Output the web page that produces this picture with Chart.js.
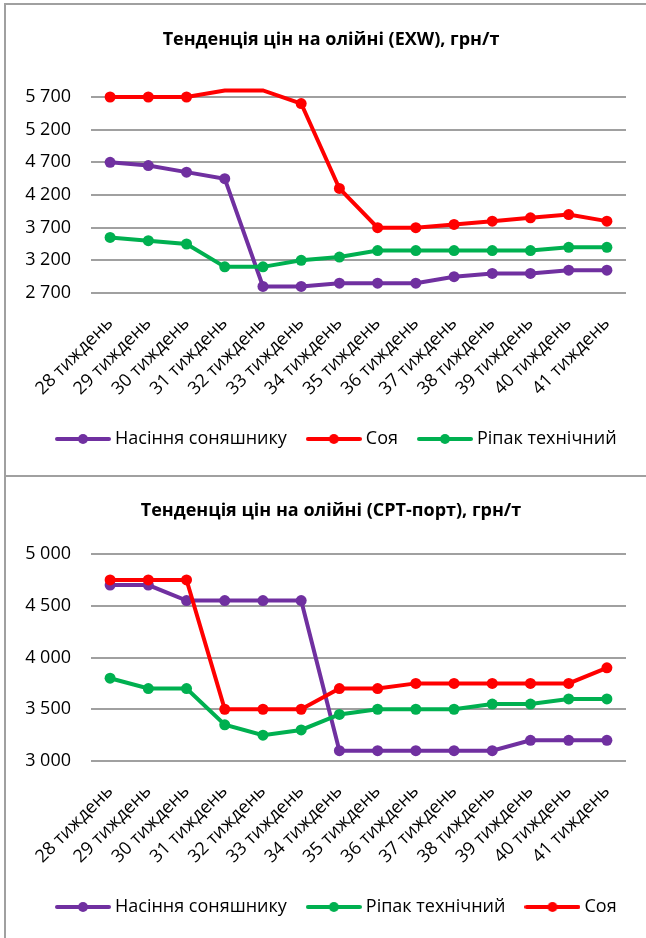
<!DOCTYPE html>
<html>

<head>
	<meta charset="UTF-8">
	<meta name="viewport" content="width=device-width, initial-scale=1.0">
	<script src="https://cdn.jsdelivr.net/npm/chart.js@4.4.1/dist/chart.umd.min.js"></script>
	<style>
		body {
			margin: 0;
			width: 646px;
			height: 938px;
			overflow: hidden;
			background: #fff;
			position: relative;
		}

		.frame {
			position: absolute;
			border: 2px solid #a0a0a0;
		}

		.plot {
			position: absolute;
			left: 6px;
			width: 640px;
		}
	</style>

	<script>
		// тижні
		var weeks = ['28 тиждень', '29 тиждень', '30 тиждень', '31 тиждень', '32 тиждень', '33 тиждень', '34 тиждень',
			'35 тиждень', '36 тиждень', '37 тиждень', '38 тиждень', '39 тиждень', '40 тиждень', '41 тиждень'];

		// EXW, грн/т
		var exwSunflower = [4700, 4650, 4550, 4450, 2800, 2800, 2850, 2850, 2850, 2950, 3000, 3000, 3050, 3050];
		var exwSoy = [5700, 5700, 5700, 5800, 5800, 5600, 4300, 3700, 3700, 3750, 3800, 3850, 3900, 3800];
		var exwRapeseed = [3550, 3500, 3450, 3100, 3100, 3200, 3250, 3350, 3350, 3350, 3350, 3350, 3400, 3400];
		var exwAxis = [2700, 5700, 500];

		// CPT-порт, грн/т
		var cptSunflower = [4700, 4700, 4550, 4550, 4550, 4550, 3100, 3100, 3100, 3100, 3100, 3200, 3200, 3200];
		var cptRapeseed = [3800, 3700, 3700, 3350, 3250, 3300, 3450, 3500, 3500, 3500, 3550, 3550, 3600, 3600];
		var cptSoy = [4750, 4750, 4750, 3500, 3500, 3500, 3700, 3700, 3750, 3750, 3750, 3750, 3750, 3900];
		var cptAxis = [3000, 5000, 500];

		var PURPLE = '#7030a0', RED = '#ff0000', GREEN = '#00b050';
		var FONT = '"Open Sans", sans-serif';
		var LEGEND_PAD = 24;

		// маркер легенди: лінія з точкою як в Excel
		function legendMarker(color) {
			var c = document.createElement('canvas');
			c.width = 56;
			c.height = 12;
			var g = c.getContext('2d');
			g.strokeStyle = color;
			g.lineWidth = 4;
			g.lineCap = 'round';
			g.beginPath();
			g.moveTo(2, 6);
			g.lineTo(54, 6);
			g.stroke();
			g.fillStyle = color;
			g.beginPath();
			g.arc(28, 6, 5, 0, Math.PI * 2);
			g.fill();
			return c;
		}

		function fmt(v) {
			return String(v).replace(/\B(?=(\d{3})+(?!\d))/g, ' ');
		}

		// зсув легенди та заголовка праворуч (мітки осі Y не можна обрізати паддінгом)
		var boxShift = {
			id: 'boxShift',
			afterLayout: function (chart) {
				var shift = 54 - LEGEND_PAD;
				chart.legend.left += shift;
				chart.legend.right += shift;
				chart.titleBlock.left += 15;
				chart.titleBlock.right += 15;
			}
		};

		function series(label, values, color, order) {
			return {
				label: label,
				data: values,
				borderColor: color,
				backgroundColor: color,
				borderWidth: 4,
				pointRadius: 5.5,
				pointHoverRadius: 5.5,
				pointBorderWidth: 0,
				pointBackgroundColor: color,
				tension: 0,
				clip: false,
				order: order
			};
		}

		function makeChart(id, title, sets, axis, pad) {
			var markers = sets.map(function (s) {return legendMarker(s.borderColor);});
			var ctx = document.getElementById(id).getContext('2d');
			return new Chart(ctx, {
				type: 'line',
				data: {
					labels: weeks,
					datasets: sets
				},
				plugins: [boxShift],
				options: {
					responsive: false,
					animation: false,
					layout: {
						padding: {left: 0, right: 20, top: 0, bottom: pad.bottom}
					},
					plugins: {
						title: {
							display: true,
							text: title,
							color: '#000',
							font: {family: FONT, size: 18, weight: 'bold'},
							padding: {top: pad.titleTop, bottom: pad.titleBottom}
						},
						legend: {
							position: 'bottom',
							align: 'start',
							labels: {
								color: '#000',
								font: {family: FONT, size: 18},
								usePointStyle: true,
								pointStyleWidth: 46,
								padding: LEGEND_PAD,
								sort: function (a, b) {return a.datasetIndex - b.datasetIndex;},
								generateLabels: function (chart) {
									var items = Chart.defaults.plugins.legend.labels.generateLabels(chart);
									items.forEach(function (it) {it.pointStyle = markers[it.datasetIndex];});
									return items;
								}
							}
						},
						tooltip: {enabled: false}
					},
					scales: {
						x: {
							offset: true,
							grid: {display: false, drawTicks: false},
							border: {display: false},
							ticks: {
								color: '#000',
								font: {family: FONT, size: 18},
								autoSkip: false,
								minRotation: 45,
								maxRotation: 45,
								padding: 20
							},
							afterFit: function (scale) {scale.height = 113;}
						},
						y: {
							min: axis[0],
							max: axis[1],
							grid: {color: '#a0a0a0', lineWidth: 2, drawTicks: false},
							border: {display: false},
							ticks: {
								stepSize: axis[2],
								color: '#000',
								font: {family: FONT, size: 18},
								padding: 20,
								callback: function (v) {return fmt(v);}
							},
							afterFit: function (scale) {scale.width = 85;}
						}
					}
				}
			});
		}

		window.onload = function () {
			// в Excel останній ряд зверху
			makeChart('exwChart', 'Тенденція цін на олійні (EXW), грн/т', [
				series('Насіння соняшнику', exwSunflower, PURPLE, 3),
				series('Соя', exwSoy, RED, 2),
				series('Ріпак технічний', exwRapeseed, GREEN, 1)
			], exwAxis, {titleTop: 24.2, titleBottom: 46.2, bottom: 15});

			makeChart('cptChart', 'Тенденція цін на олійні (CPT-порт), грн/т', [
				series('Насіння соняшнику', cptSunflower, PURPLE, 3),
				series('Ріпак технічний', cptRapeseed, GREEN, 2),
				series('Соя', cptSoy, RED, 1)
			], cptAxis, {titleTop: 23.2, titleBottom: 32.2, bottom: 12});
		};
	</script>
</head>

<body>
	<div class="frame" style="left: 4px; top: 3px; width: 700px; height: 470px;"></div>
	<div class="frame" style="left: 4px; top: 475px; width: 700px; height: 600px;"></div>
	<canvas id="exwChart" class="plot" width="640" height="468" style="top: 5px; height: 468px;"></canvas>
	<canvas id="cptChart" class="plot" width="640" height="461" style="top: 477px; height: 461px;"></canvas>
</body>

</html>
